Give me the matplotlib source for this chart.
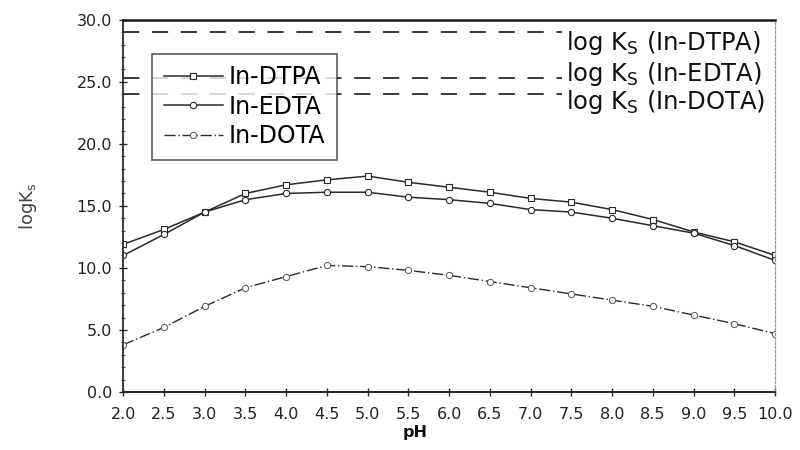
import numpy as np
import matplotlib.pyplot as plt

plt.rcParams['font.family'] = ['DejaVu Sans']

# Data
ph = [2.0, 2.5, 3.0, 3.5, 4.0, 4.5, 5.0, 5.5, 6.0, 6.5, 7.0, 7.5, 8.0, 8.5, 9.0, 9.5, 10.0]
dtpa = [11.9, 13.1, 14.5, 16.0, 16.7, 17.1, 17.4, 16.9, 16.5, 16.1, 15.6, 15.3, 14.7, 13.9, 12.9, 12.1, 11.0]
edta = [11.0, 12.7, 14.5, 15.5, 16.0, 16.1, 16.1, 15.7, 15.5, 15.2, 14.7, 14.5, 14.0, 13.4, 12.8, 11.8, 10.6]
dota = [3.8, 5.2, 6.9, 8.4, 9.3, 10.2, 10.1, 9.8, 9.4, 8.9, 8.4, 7.9, 7.4, 6.9, 6.2, 5.5, 4.7]

# Stability constants (horizontal reference lines)
ks_names = ['In-DTPA', 'In-EDTA', 'In-DOTA']
ks_values = [29.0, 25.3, 24.0]
ks_text_y = [28.1, 25.6, 23.4]

ink = '#2a2a2a'

fig = plt.figure(figsize=(8, 4.5), dpi=100)
ax = fig.add_axes([0.154, 0.129, 0.815, 0.827])

ax.plot(ph, dtpa, color=ink, lw=1.1, marker='s', ms=4.5, mfc='white', mec=ink, mew=0.8, label='In-DTPA')
ax.plot(ph, edta, color=ink, lw=1.1, marker='o', ms=4.5, mfc='white', mec=ink, mew=0.8, label='In-EDTA')
ax.plot(ph, dota, color=ink, lw=1.0, ls=(0, (8, 2, 1, 2)), marker='o', ms=4.5, mfc='white', mec='#555555',
        mew=0.7, label='In-DOTA')

# Reference lines for log Ks
for name, val, ty in zip(ks_names, ks_values, ks_text_y):
    ax.plot([2.0, 7.39], [val, val], color=ink, lw=1.3, ls=(0, (9, 7)))
    ax.text(7.43, ty, 'log K$_\\mathregular{S}$ (' + name + ')', ha='left', va='center',
            fontsize=17.5, color='#111111')

ax.set_xlim(2.0, 10.0)
ax.set_ylim(0.0, 30.0)
ax.set_xticks(np.arange(2.0, 10.01, 0.5))
ax.set_xticklabels(['%.1f' % v for v in np.arange(2.0, 10.01, 0.5)])
ax.set_yticks(np.arange(0, 30.1, 5))
ax.set_yticklabels(['%.1f' % v for v in np.arange(0, 30.1, 5)])
ax.set_yticks(np.arange(0, 30.1, 1), minor=True)
ax.tick_params(axis='both', which='major', direction='inout', length=6, width=1.0, color=ink,
               labelsize=11.5, labelcolor='#222222')
ax.tick_params(axis='y', which='minor', direction='inout', length=3, width=0.8, color='#555555')
ax.tick_params(axis='x', which='major', pad=8)
ax.tick_params(axis='y', which='major', pad=5)

ax.spines['left'].set_color(ink)
ax.spines['left'].set_linewidth(1.3)
ax.spines['bottom'].set_color(ink)
ax.spines['bottom'].set_linewidth(1.5)
ax.spines['top'].set_color('#1a1a1a')
ax.spines['top'].set_linewidth(1.8)
ax.spines['right'].set_color('#999999')
ax.spines['right'].set_linewidth(0.9)
ax.spines['right'].set_linestyle((0, (2, 1.5)))

ax.set_xlabel('pH', fontsize=11.5, fontweight='bold', color='#111111', labelpad=2)
ax.xaxis.label.set_x(0.448)
ax.set_ylabel('logK$_\\mathregular{s}$', fontsize=13, color='#444444', labelpad=27)

leg = ax.legend(loc='upper left', bbox_to_anchor=(0.044, 0.909), fontsize=17, frameon=True,
                fancybox=False, handlelength=2.5, handletextpad=0.25, borderpad=0.5,
                labelspacing=0.22, borderaxespad=0.0)
leg.get_frame().set_edgecolor('#333333')
leg.get_frame().set_linewidth(1.2)

plt.savefig('out.png', dpi=100)
